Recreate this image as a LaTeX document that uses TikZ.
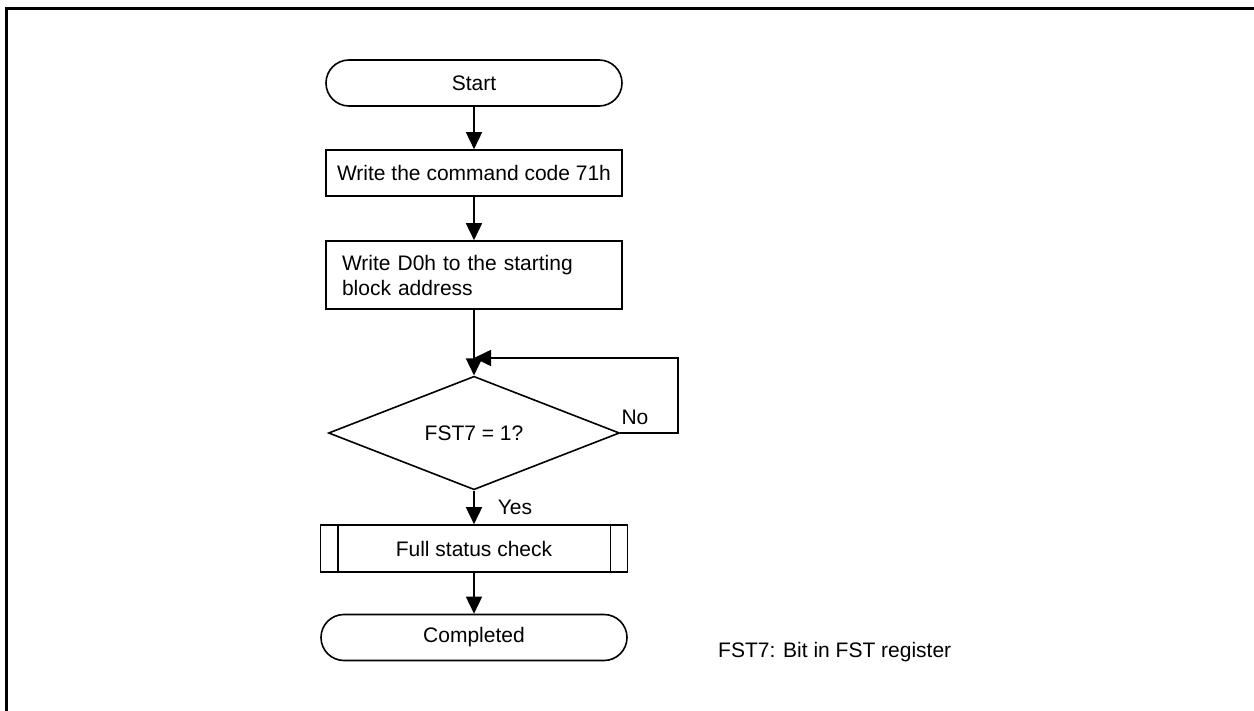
\documentclass[tikz,border=0pt]{standalone}
\usepackage{fontspec}
\setmainfont{Liberation Sans}
\usetikzlibrary{arrows.meta,shapes.geometric,calc}
\begin{document}
\begin{tikzpicture}[x=1pt,y=-1pt,
  every node/.style={font=\fontsize{21}{25}\selectfont},
  ln/.style={line width=1.6pt},
  arr/.style={ln,-{Triangle[width=16pt,length=17pt]}},
  term/.style={draw,ln,rectangle,rounded corners=23pt,minimum height=46pt,inner sep=0pt},
  procbox/.style={draw,ln,rectangle,minimum width=296pt,minimum height=46pt,inner sep=0pt},
  decbox/.style={draw,ln,diamond,minimum width=291pt,minimum height=90pt,inner sep=0pt},
  subbox/.style={draw,ln,rectangle,minimum width=307pt,minimum height=47pt,inner sep=0pt},
  lbl/.style={inner sep=0pt}]
\useasboundingbox (0,0) rectangle (1254,711);
\draw[line width=3pt] (6.5,711) -- (6.5,8.2) -- (1254,8.2);

\node[term,minimum width=296pt] (start) at (474,83) {Start};
\node[procbox] (b1) at (474,173) {Write the command code 71h};
\node[procbox,minimum height=68pt,text width=264pt,inner xsep=16pt,align=left] (b2) at (474,275)
  {Write D0h to the starting\\block address};
\node[decbox] (d) at (474,433) {FST7 = 1?};
\node[subbox] (fs) at (474,548.5) {Full status check};
\draw[ln] ($(fs.north west)+(18,0)$) -- ($(fs.south west)+(18,0)$);
\draw[ln] ($(fs.north east)+(-18,0)$) -- ($(fs.south east)+(-18,0)$);
\node[term,minimum width=306pt] (done) at (474,637.5) {Completed};

\node[lbl] (no) at (635,417) {No};
\node[lbl] (yes) at (515,507) {Yes};
\node[lbl,anchor=base west] (note) at (718,657) {FST7: Bit in FST register};

\coordinate (loopc) at (678,358);
\coordinate (join) at (474,358);

\draw[arr] (start.south) -- (b1.north);
\draw[arr] (b1.south) -- (b2.north);
\draw[arr] (b2.south) -- (b2.south |- d.north);
\draw[arr] (d.east) -| (loopc) -- (join);
\draw[arr] (d.south) -- (d.south |- fs.north);
\draw[arr] (fs.south) -- (fs.south |- done.north);
\end{tikzpicture}
\end{document}
